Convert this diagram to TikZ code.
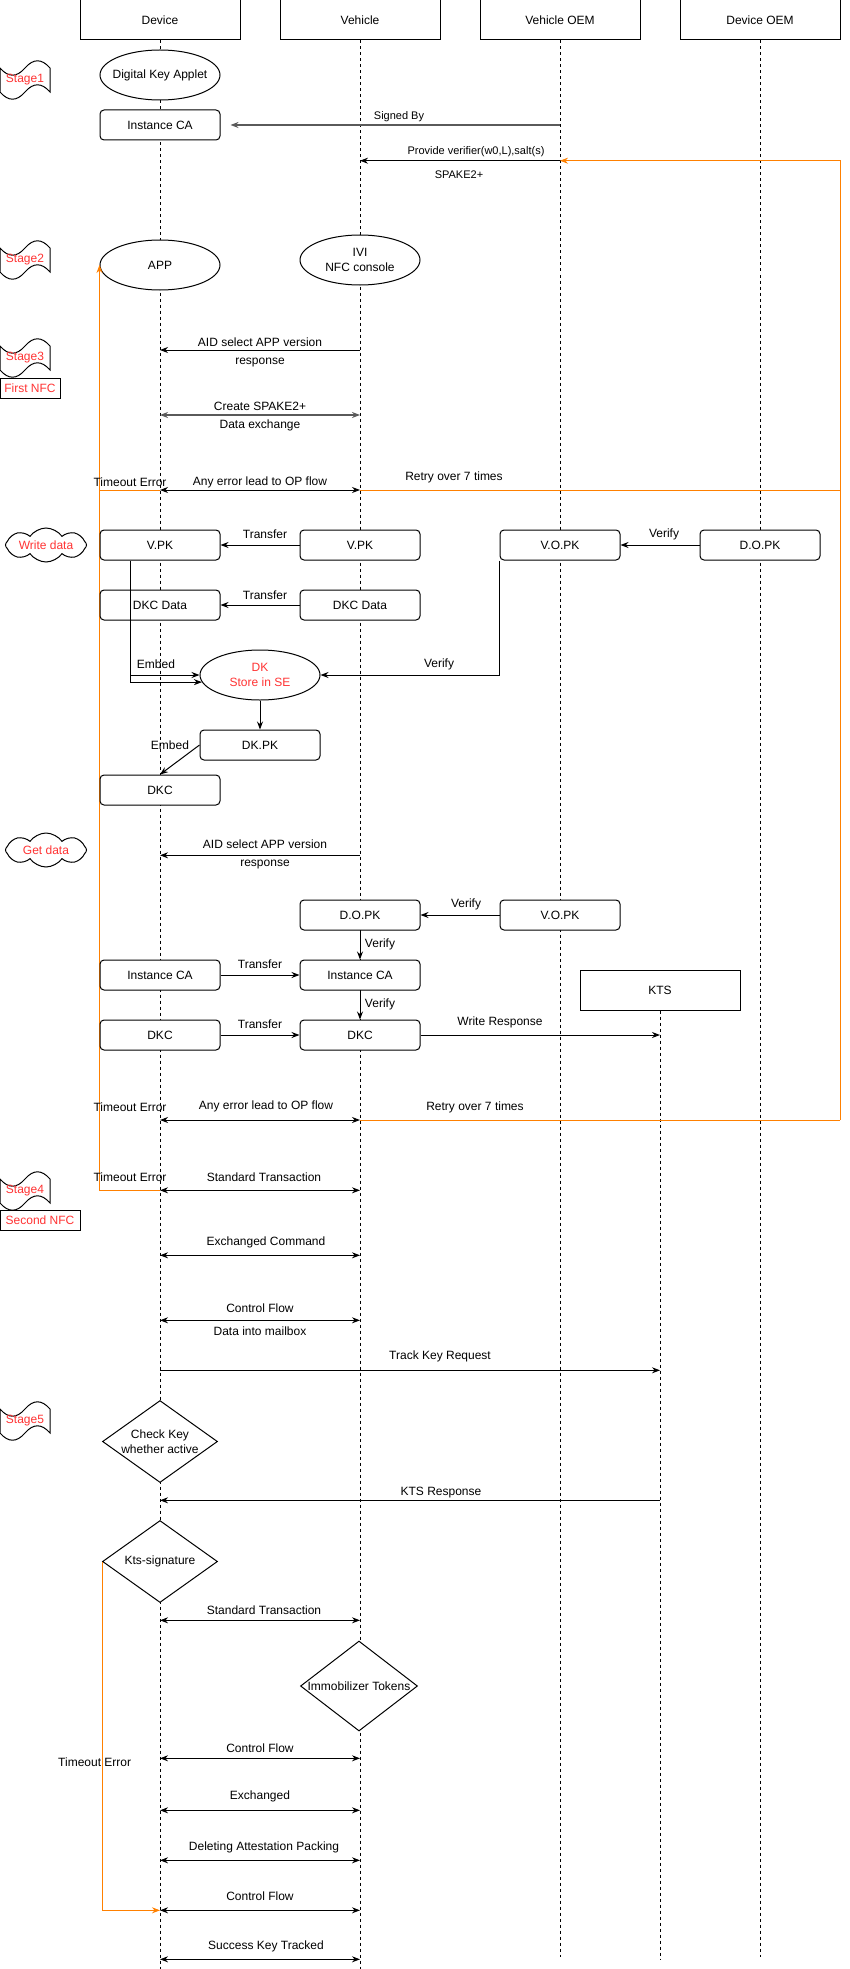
\documentclass[tikz,border=0pt]{standalone}
\usepackage{fontspec}
\setmainfont{Liberation Sans}
\usetikzlibrary{
  positioning,
  arrows.meta,
  shapes.geometric,
  shapes.symbols
}
\definecolor{stagered}{HTML}{FF3333}
\definecolor{retry}{HTML}{FF8000}
\definecolor{heavy}{HTML}{5A5A5A}

\begin{document}
\begin{tikzpicture}[
  x=1pt, y=-1pt, line width=1pt,
  font=\fontsize{12}{15}\selectfont,
  actor/.style={draw, fill=white, minimum width=160pt, minimum height=40pt, inner sep=0pt},
  lifeline/.style={dash pattern=on 3pt off 3pt},
  keybox/.style={draw, fill=white, rounded corners=4pt, minimum width=120pt, minimum height=30pt, inner sep=0pt},
  bubble/.style={draw, fill=white, ellipse, minimum width=120pt, minimum height=50pt, inner sep=0pt,
               label={[align=center]center:#1}},
  redbubble/.style={draw, fill=white, ellipse, minimum width=120pt, minimum height=50pt, inner sep=0pt,
               label={[align=center, text=stagered]center:#1}},
  check/.style={draw, fill=white, diamond, minimum width=115pt, minimum height=82pt, inner sep=0pt,
               label={[align=center]center:#1}},
  puff/.style={draw, fill=white, cloud, cloud puffs=8, cloud puff arc=110, aspect=2.4,
               minimum width=81pt, minimum height=34pt, inner sep=0pt, label={[text=stagered]center:#1}},
  nfcbox/.style={draw, minimum height=20pt, inner sep=0pt, text=stagered},
  stagetxt/.style={text=stagered, inner sep=0pt},
  lbl/.style={inner sep=0pt},
  small/.style={font=\fontsize{11}{13}\selectfont},
  msg/.style={-{Stealth[length=8pt, width=6pt]}},
  dmsg/.style={{Stealth[length=8pt, width=6pt]}-{Stealth[length=8pt, width=6pt]}},
  heavymsg/.style={draw=heavy, line width=1.8pt},
  retryline/.style={draw=retry},
  stagetape/.pic={
    \draw (0,8) .. controls (8.33,17.6) and (16.67,17.6) .. (25,8)
      .. controls (33.33,-1.6) and (41.67,-1.6) .. (50,8) -- (50,32)
      .. controls (41.67,22.4) and (33.33,22.4) .. (25,32)
      .. controls (16.67,41.6) and (8.33,41.6) .. (0,32) -- cycle;
  },
]
  \useasboundingbox (0,0) rectangle (849,1969);

  % lifelines
  \node[actor] (dev) at (160,20) {Device};
  \node[actor] (veh) at (360,20) {Vehicle};
  \node[actor] (voem) at (560,20) {Vehicle OEM};
  \node[actor] (doem) at (760,20) {Device OEM};
  \node[actor] (kts) at (660,990) {KTS};

  \draw[lifeline] (dev.south) -- (dev |- 0,1969);
  \draw[lifeline] (veh.south) -- (veh |- 0,1969);
  \draw[lifeline] (voem.south) -- (voem |- 0,1957);
  \draw[lifeline] (doem.south) -- (doem |- 0,1957);
  \draw[lifeline] (kts.south) -- (kts |- 0,1960);

  % stage marks
  \pic at (0,60) {stagetape};
  \node[stagetxt] (st1) at (25,80) {Stage1};
  \pic at (0,240) {stagetape};
  \node[stagetxt] (st2) at (25,260) {Stage2};
  \pic at (0,338) {stagetape};
  \node[stagetxt] (st3) at (25,358) {Stage3};
  \node[nfcbox, minimum width=60pt] (nfc1) at (30,388) {First NFC};
  \pic at (0,1171) {stagetape};
  \node[stagetxt] (st4) at (25,1191) {Stage4};
  \node[nfcbox, minimum width=80pt] (nfc2) at (40,1220) {Second NFC};
  \pic at (0,1401) {stagetape};
  \node[stagetxt] (st5) at (25,1421) {Stage5};
  \node[puff={Write data}] (wdata) at (46,545) {};
  \node[puff={Get data}] (gdata) at (46,850) {};

  % stage 1
  \node[bubble={Digital Key Applet}] (applet) at (160,75) {};
  \node[keybox] (devca) at (160,125) {Instance CA};
  \draw[msg, heavymsg] (voem |- devca) -- ([xshift=10pt]devca.east);
  \node[lbl, small] (lsign) at (399,117) {Signed By};
  \coordinate (rtop) at (840,160.7);
  \coordinate (rbot) at (840,1120);
  \draw[msg] (voem |- rtop) -- (veh |- rtop);
  \node[lbl, small] (lverif) at (476,152) {Provide verifier(w0,L),salt(s)};
  \node[lbl, small] (lspake) at (459,175) {SPAKE2+};
  \draw[retryline, msg] (rbot) -- (rtop) -- (voem |- rtop);

  % stage 2
  \node[bubble={APP}] (app) at (160,265) {};
  \node[bubble={IVI\\NFC console}] (ivi) at (360,260) {};

  % stage 3
  \draw[msg] (veh |- 0,350) -- (dev |- 0,350);
  \node[lbl] (laid1) at (260,342.5) {AID select APP version};
  \node[lbl] (lresp1) at (260,363) {response};
  \draw[dmsg, heavymsg] (dev |- 0,415) -- (veh |- 0,415);
  \node[lbl] (lcreate) at (260,406.5) {Create SPAKE2+};
  \node[lbl] (lexch) at (260,425) {Data exchange};

  \draw[dmsg] (dev |- 0,490) -- (veh |- 0,490);
  \draw[retryline] (100,490) -- (dev |- 0,490);
  \draw[retryline] (veh |- 0,490) -- (rtop |- 0,490);
  \draw[retryline, msg] (dev |- 0,1190) -| (app.west);
  \node[lbl] (lto1) at (130,482.5) {Timeout Error};
  \node[lbl] (lerr1) at (260,482.5) {Any error lead to OP flow};
  \node[lbl] (lretry1) at (454,477.5) {Retry over 7 times};

  % write data
  \node[keybox] (devvpk) at (160,545) {V.PK};
  \node[keybox] (vehvpk) at (360,545) {V.PK};
  \node[keybox] (vopk1) at (560,545) {V.O.PK};
  \node[keybox] (dopk1) at (760,545) {D.O.PK};
  \node[keybox] (devdkcdata) at (160,605) {DKC Data};
  \node[keybox] (vehdkcdata) at (360,605) {DKC Data};
  \node[redbubble={DK\\Store in SE}] (dkse) at (260,675) {};
  \node[keybox] (dkpk) at (260,745) {DK.PK};
  \node[keybox] (devdkc1) at (160,790) {DKC};

  \draw[msg] (vehvpk.west) -- (devvpk.east);
  \node[lbl] (ltr1) at (265,534) {Transfer};
  \draw[msg] (vehdkcdata.west) -- (devdkcdata.east);
  \node[lbl] (ltr2) at (265,595) {Transfer};
  \draw[msg] (dopk1.west) -- (vopk1.east);
  \node[lbl] (lver1) at (664,534) {Verify};
  \draw[msg] (vopk1.south west) |- (dkse.east);
  \node[lbl] (lver2) at (439,664) {Verify};
  \draw[msg] (devvpk.south -| 130,0) |- (dkse.187);
  \draw[msg] (devdkcdata.south -| 130,0) |- (dkse.west);
  \node[lbl] (lemb1) at (156,664) {Embed};
  \draw[msg] (dkse.south) -- (dkpk.north);
  \draw[msg] (dkpk.west) -- (devdkc1.north);
  \node[lbl] (lemb2) at (170,745) {Embed};

  % get data
  \draw[msg] (veh |- 0,855.3) -- (dev |- 0,855.3);
  \node[lbl] (laid2) at (265,844.3) {AID select APP version};
  \node[lbl] (lresp2) at (265,864.7) {response};
  \node[keybox] (dopk2) at (360,915) {D.O.PK};
  \node[keybox] (vopk2) at (560,915) {V.O.PK};
  \node[keybox] (devca2) at (160,975) {Instance CA};
  \node[keybox] (vehca2) at (360,975) {Instance CA};
  \node[keybox] (devdkc2) at (160,1035) {DKC};
  \node[keybox] (vehdkc2) at (360,1035) {DKC};

  \draw[msg] (vopk2.west) -- (dopk2.east);
  \node[lbl] (lver3) at (466,904.7) {Verify};
  \draw[msg] (dopk2.south) -- (vehca2.north);
  \node[lbl] (lver4) at (380,944) {Verify};
  \draw[msg] (devca2.east) -- (vehca2.west);
  \node[lbl] (ltr3) at (260,964.7) {Transfer};
  \draw[msg] (vehca2.south) -- (vehdkc2.north);
  \node[lbl] (lver5) at (380,1004.7) {Verify};
  \draw[msg] (devdkc2.east) -- (vehdkc2.west);
  \node[lbl] (ltr4) at (260,1024.7) {Transfer};
  \draw[msg] (vehdkc2.east) -- (kts |- vehdkc2);
  \node[lbl] (lwrite) at (500,1022.7) {Write Response};

  \draw[dmsg] (dev |- rbot) -- (veh |- rbot);
  \draw[retryline] (veh |- rbot) -- (rbot);
  \node[lbl] (lto2) at (130,1106.7) {Timeout Error};
  \node[lbl] (lerr2) at (266,1106.7) {Any error lead to OP flow};
  \node[lbl] (lretry2) at (475,1107.7) {Retry over 7 times};

  % stage 4
  \draw[dmsg] (dev |- 0,1190.3) -- (veh |- 0,1190.3);
  \node[lbl] (lto3) at (130,1176.7) {Timeout Error};
  \node[lbl] (lstd1) at (264,1176.7) {Standard Transaction};
  \draw[dmsg] (dev |- 0,1255.3) -- (veh |- 0,1255.3);
  \node[lbl] (lcmd) at (266,1242.7) {Exchanged Command};
  \draw[dmsg] (dev |- 0,1320.3) -- (veh |- 0,1320.3);
  \node[lbl] (lctl1) at (260,1307.7) {Control Flow};
  \node[lbl] (lmail) at (260,1330.7) {Data into mailbox};
  \draw[msg] (dev |- 0,1370.3) -- (kts |- 0,1370.3);
  \node[lbl] (ltrack) at (440,1356.7) {Track Key Request};

  % stage 5
  \node[check={Check Key\\whether active}] (ckey) at (160,1441.5) {};
  \draw[msg] (kts |- 0,1500.3) -- (dev |- 0,1500.3);
  \node[lbl] (lktsr) at (441,1492.7) {KTS Response};
  \node[check={Kts-signature}] (ksig) at (160,1561.5) {};
  \draw[dmsg] (dev |- 0,1620.3) -- (veh |- 0,1620.3);
  \node[lbl] (lstd2) at (264,1609.7) {Standard Transaction};
  \node[check={Immobilizer Tokens}, minimum width=117pt, minimum height=90pt] (immo) at (359,1686) {};
  \draw[dmsg] (dev |- 0,1758.3) -- (veh |- 0,1758.3);
  \node[lbl] (lctl2) at (260,1747.7) {Control Flow};
  \draw[dmsg] (dev |- 0,1810.3) -- (veh |- 0,1810.3);
  \node[lbl] (lexd) at (260,1796.7) {Exchanged};
  \draw[dmsg] (dev |- 0,1860.3) -- (veh |- 0,1860.3);
  \node[lbl] (ldel) at (264,1847.7) {Deleting Attestation Packing};
  \draw[dmsg] (dev |- 0,1910.3) -- (veh |- 0,1910.3);
  \node[lbl] (lctl3) at (260,1895.7) {Control Flow};
  \draw[dmsg] (dev |- 0,1959.3) -- (veh |- 0,1959.3);
  \node[lbl] (lsucc) at (266,1946.7) {Success Key Tracked};
  \draw[retryline, msg] (ksig.west) |- (dev |- 0,1910.3);
  \node[lbl] (lto4) at (94.7,1761.7) {Timeout Error};
\end{tikzpicture}
\end{document}
